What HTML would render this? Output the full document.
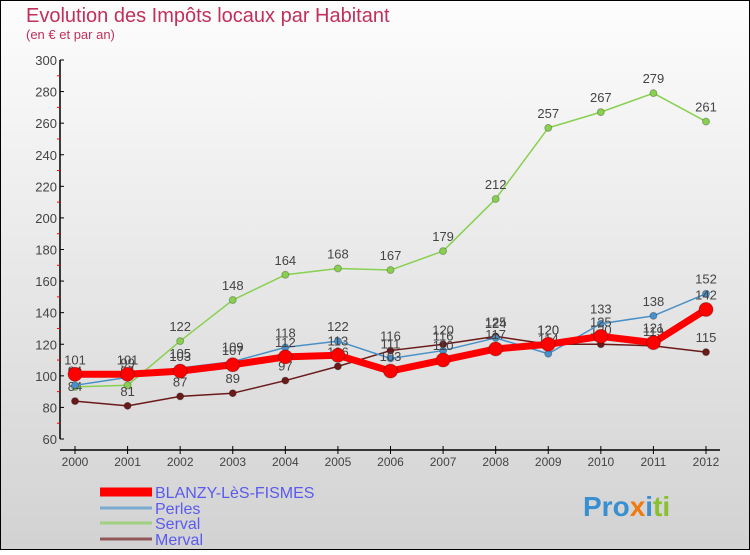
<!DOCTYPE html>
<html><head><meta charset="utf-8"><style>
body{margin:0}
svg text{font-family:"Liberation Sans",sans-serif}
</style></head><body>
<svg id="c" width="750" height="550" xmlns="http://www.w3.org/2000/svg">
<defs><linearGradient id="bg" x1="0" y1="0" x2="0" y2="1"><stop offset="0" stop-color="#fdfdfd"/><stop offset="1" stop-color="#d2d2d2"/></linearGradient></defs>
<rect x="0.5" y="0.5" width="749" height="549" fill="url(#bg)" stroke="#000"/>
<text x="26" y="22" font-size="20" fill="#c0305a">Evolution des Impôts locaux par Habitant</text>
<text x="26" y="39" font-size="13" fill="#c0305a">(en € et par an)</text>
<g id="axes"></g>
<g id="series"></g>
<g id="legend"></g>
<text x="583" y="516" font-size="28" font-weight="bold"><tspan fill="#3a8fd0">Pro</tspan><tspan fill="#f07a10">x</tspan><tspan fill="#3a8fd0">i</tspan><tspan fill="#88c030">ti</tspan></text>
</svg>
<script>
const years=[2000,2001,2002,2003,2004,2005,2006,2007,2008,2009,2010,2011,2012];
const yTicks=[60,80,100,120,140,160,180,200,220,240,260,280,300];
const blanzy=[101,101,103,107,112,113,103,110,117,120,125,121,142];
const perles=[94,99,105,109,118,122,111,116,124,114,133,138,152];
const serval=[93,94,122,148,164,168,167,179,212,257,267,279,261];
const merval=[84,81,87,89,97,106,116,120,125,120,120,119,115];
const NS="http://www.w3.org/2000/svg";
function X(i){return 75+i*(706-75)/12;}
function Y(v){return 439-(v-60)*(439-60)/240;}
function mk(t,a,p){const e=document.createElementNS(NS,t);for(const k in a)e.setAttribute(k,a[k]);p.appendChild(e);return e;}
const ax=document.getElementById('axes');
let l=mk('line',{x1:60,y1:Y(300),x2:60,y2:Y(60),stroke:'#000','stroke-width':1.5},ax);


yTicks.forEach((v,i)=>{
 mk('line',{x1:60,y1:Y(v),x2:64,y2:Y(v),stroke:'#000'},ax);
 if(i<yTicks.length-1){mk('line',{x1:57,y1:Y(v+10),x2:60,y2:Y(v+10),stroke:'#f00'},ax);}
 const t=mk('text',{x:57,y:Y(v)+5,'font-size':13,fill:'#444','text-anchor':'end'},ax);t.textContent=v;
 
 
});
l=mk('line',{x1:60,y1:450,x2:720,y2:450,stroke:'#000','stroke-width':1.5},ax);


years.forEach((y,i)=>{
 mk('line',{x1:X(i),y1:446,x2:X(i),y2:454,stroke:'#000'},ax);
 const t=mk('text',{x:X(i),y:466,'font-size':12,fill:'#444','text-anchor':'middle'},ax);t.textContent=y;
 
 
});
const sg=document.getElementById('series');
function series(vals,color,w,r,name){
 const g=mk('g',{},sg);
 
 
 mk('polyline',{points:vals.map((v,i)=>X(i)+','+Y(v)).join(' '),fill:'none',stroke:color,'stroke-width':w,'stroke-linejoin':'round'},g);
 vals.forEach((v,i)=>{
  const c=mk('circle',{cx:X(i),cy:Y(v),r:r,fill:color,stroke:'rgba(0,0,0,0.25)'},g);
  
  
  const t=mk('text',{x:X(i),y:Y(v)-10,'font-size':13,fill:'#444','text-anchor':'middle'},g);t.textContent=v;
  
  
 });
}
series(serval,'#88d050',1.5,3.5,'serval-series');
series(merval,'#6a1a1a',1.5,3.5,'merval-series');
series(perles,'#4a90c8',1.5,3.5,'perles-series');
series(blanzy,'#f00',7,7,'blanzy-series');
const lg=document.getElementById('legend');
[['BLANZY-LèS-FISMES','#f00',9,492],['Perles','#7aaad0',3,508],['Serval','#a0d080',3,523],['Merval','#905858',3,539]].forEach(d=>{
 const g=mk('g',{},lg);
 
 
 mk('line',{x1:100,y1:d[3],x2:152,y2:d[3],stroke:d[1],'stroke-width':d[2]},g);
 const t=mk('text',{x:155,y:d[3]+6,'font-size':16,fill:'#5a5af0'},g);t.textContent=d[0];
});
</script>
</body></html>
